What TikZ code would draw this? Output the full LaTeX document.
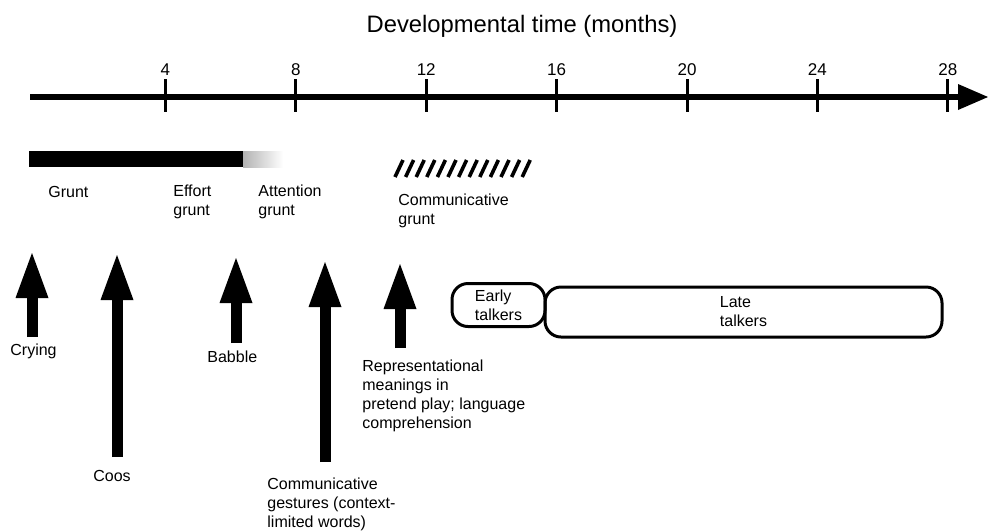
\documentclass[tikz,border=0pt]{standalone}
\usepackage{fontspec}
\setmainfont{Liberation Sans}
\usetikzlibrary{arrows.meta}

\begin{document}
\begin{tikzpicture}[x=0.5pt, y=-0.5pt,
    event/.style={anchor=base west, inner sep=0pt, align=left, font=\fontsize{8pt}{9.5pt}\selectfont},
    big arrow/.style={line width=5.5pt, -{Triangle[width=16.5pt, length=22.5pt, line width=0pt]}},
    talkers/.style={draw, line width=1.5pt, rounded corners=8pt, align=left, inner sep=0pt, font=\fontsize{8pt}{9.5pt}\selectfont}]
    \useasboundingbox (0,0) rectangle (988,531);
    \node[anchor=base, inner sep=0pt, font=\fontsize{11.9pt}{14pt}\selectfont] (title) at (522,32) {Developmental time (months)};
    % time axis
    \coordinate (axis start) at (30,97);
    \coordinate (axis end) at (988,97);
    \draw[line width=3.25pt, -{Triangle[width=13pt, length=15pt, line width=0pt]}] (axis start) -- (axis end);
    \foreach \m in {4,8,...,28} {
      \draw[line width=1.5pt] ({35+32.6*\m},79) -- ({35+32.6*\m},112);
      \node[anchor=base, inner sep=0pt, font=\fontsize{8.5pt}{10pt}\selectfont] (month \m) at ({35+32.6*\m},75) {\m};
    }
    % grunt bars (base of a multi-line node is its last line)
    \fill (29,151) rectangle (243,167);
    \shade[left color=black!30, right color=white] (243,151) rectangle (283,167);
    \foreach \i in {0,...,12}
      \draw[line width=1.8pt] ({395+10.6*\i},177) -- ({403+10.6*\i},160);
    \node[event] (grunt) at (48,197) {Grunt};
    \node[event] (effort grunt) at (173,215) {Effort\\grunt};
    \node[event] (attention grunt) at (258,215) {Attention\\grunt};
    \node[event] (communicative grunt) at (398,224) {Communicative\\grunt};
    % milestones
    \node[event] (crying) at (10,355) {Crying};
    \node[event] (coos) at (93,481) {Coos};
    \node[event] (babble) at (207,362) {Babble};
    \node[event] (gestures) at (267,527) {Communicative\\gestures (context-\\limited words)};
    \node[event] (pretend play) at (362,428) {Representational\\meanings in\\pretend play; language\\comprehension};
    \coordinate (crying base) at (32,337);
    \coordinate (crying tip) at (32,253);
    \coordinate (coos base) at (117,457);
    \coordinate (coos tip) at (117,255);
    \coordinate (babble base) at (236,343);
    \coordinate (babble tip) at (236,258);
    \coordinate (gestures base) at (325,462);
    \coordinate (gestures tip) at (325,262);
    \coordinate (pretend play base) at (400,348);
    \coordinate (pretend play tip) at (400,264);
    \draw[big arrow] (crying base) -- (crying tip);
    \draw[big arrow] (coos base) -- (coos tip);
    \draw[big arrow] (babble base) -- (babble tip);
    \draw[big arrow] (gestures base) -- (gestures tip);
    \draw[big arrow] (pretend play base) -- (pretend play tip);
    % talkers
    \node[talkers, minimum width=46.5pt, minimum height=21.5pt] (early talkers) at (498.5,305) {Early\\talkers};
    \node[talkers, minimum width=198.5pt, minimum height=25pt] (late talkers) at (743.5,312) {Late\\talkers};
\end{tikzpicture}
\end{document}
